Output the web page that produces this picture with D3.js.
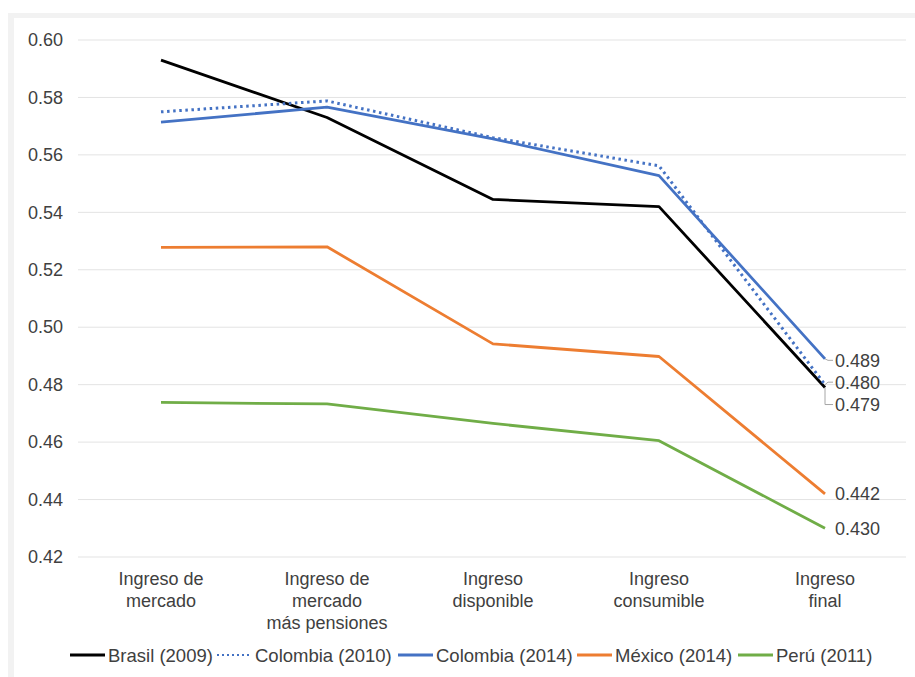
<!DOCTYPE html>
<html>
<head>
<meta charset="utf-8">
<script src="https://cdn.jsdelivr.net/npm/d3@7"></script>
<style>
  html, body { margin: 0; padding: 0; background: #ffffff; }
  svg { display: block; font-family: "Liberation Sans", Arial, sans-serif; }
</style>
</head>
<body>
<svg id="chart" width="915" height="677"></svg>
<script>
// Categories (income concepts) along the x axis
const categories = [
  ["Ingreso de", "mercado"],
  ["Ingreso de", "mercado", "más pensiones"],
  ["Ingreso", "disponible"],
  ["Ingreso", "consumible"],
  ["Ingreso", "final"]
];

// Gini coefficients by income concept
const brasil2009   = [0.593, 0.573, 0.5445, 0.542, 0.479];
const colombia2010 = [0.575, 0.5788, 0.566, 0.5562, 0.480];
const colombia2014 = [0.5714, 0.5766, 0.5656, 0.5528, 0.489];
const mexico2014   = [0.5278, 0.528, 0.4942, 0.4898, 0.442];
const peru2011     = [0.4738, 0.4733, 0.4665, 0.4605, 0.430];

const yTicks = [0.42, 0.44, 0.46, 0.48, 0.50, 0.52, 0.54, 0.56, 0.58, 0.60];

const series = [
  { name: "Brasil (2009)",   values: brasil2009,   color: "#000000", dash: null },
  { name: "Colombia (2010)", values: colombia2010, color: "#4472C4", dash: "2.5,3.6" },
  { name: "Colombia (2014)", values: colombia2014, color: "#4472C4", dash: null },
  { name: "México (2014)",   values: mexico2014,   color: "#ED7D31", dash: null },
  { name: "Perú (2011)",     values: peru2011,     color: "#70AD47", dash: null }
];

const svg = d3.select("#chart");
const textColor = "#404040";

// Background frame
svg.append("rect").attr("x", 8).attr("y", 13).attr("width", 915).attr("height", 677).attr("fill", "#f2f2f2");
svg.append("rect").attr("x", 14).attr("y", 18).attr("width", 915).attr("height", 677).attr("fill", "#ffffff");

const x = d3.scaleBand().domain(d3.range(categories.length)).range([78, 908]);
const cx = i => x(i) + x.bandwidth() / 2;
const y = d3.scaleLinear().domain([0.42, 0.60]).range([557, 40]);

// Gridlines
svg.append("g").selectAll("line").data(yTicks).join("line")
  .attr("x1", 78).attr("x2", 906)
  .attr("y1", d => y(d)).attr("y2", d => y(d))
  .attr("stroke", "#e3e3e3").attr("stroke-width", 1);

// Y axis labels
const yAxis = svg.append("g").attr("transform", "translate(63,0)")
  .call(d3.axisLeft(y).tickValues(yTicks).tickFormat(d3.format(".2f")).tickSize(0).tickPadding(0));
yAxis.select(".domain").remove();
yAxis.selectAll("text").attr("fill", textColor).attr("font-size", 18)
  .attr("font-family", "Liberation Sans, Arial, sans-serif");

// X axis category labels (multi-line)
const xLab = svg.append("g").selectAll("text").data(categories).join("text")
  .attr("x", (d, i) => cx(i)).attr("y", 585)
  .attr("text-anchor", "middle").attr("fill", textColor).attr("font-size", 18);
xLab.selectAll("tspan").data(d => d).join("tspan")
  .attr("x", function () { return d3.select(this.parentNode).attr("x"); })
  .attr("dy", (d, i) => i === 0 ? 0 : 22)
  .text(d => d);

// Series lines
const line = d3.line().x((d, i) => cx(i)).y(d => y(d));
svg.append("g").selectAll("path").data(series).join("path")
  .attr("d", d => line(d.values))
  .attr("fill", "none")
  .attr("stroke", d => d.color)
  .attr("stroke-width", d => d.dash ? 3 : 2.8)
  .attr("stroke-dasharray", d => d.dash)
  .attr("stroke-linejoin", "round");

// Value labels at the last category, with leader lines where shifted
const last = categories.length - 1;
const lx = cx(last);
const labels = [
  { v: colombia2014[last], dy: 1.5 },
  { v: colombia2010[last], dy: -2.5 },
  { v: brasil2009[last],   dy: 17 },
  { v: mexico2014[last],   dy: 0 },
  { v: peru2011[last],     dy: 0 }
];
const lg = svg.append("g");
labels.forEach(l => {
  const py = y(l.v), ty = py + l.dy;
  if (Math.abs(l.dy) > 0.1) {
    const pts = Math.abs(l.dy) > 6
      ? [[lx, py], [lx, ty], [lx + 8, ty]]
      : [[lx, py], [lx + 3, ty], [lx + 8, ty]];
    lg.append("path").attr("d", d3.line()(pts))
      .attr("fill", "none").attr("stroke", "#a6a6a6").attr("stroke-width", 1);
  }
  lg.append("text").attr("x", lx + 10).attr("y", ty).attr("dy", "0.36em")
    .attr("fill", textColor).attr("font-size", 18)
    .text(d3.format(".3f")(l.v));
});

// Legend
const legendItems = [
  { s: series[0], x: 70 },
  { s: series[1], x: 217 },
  { s: series[2], x: 398 },
  { s: series[3], x: 577 },
  { s: series[4], x: 738 }
];
const leg = svg.append("g").attr("transform", "translate(0,655)");
legendItems.forEach(it => {
  leg.append("line").attr("x1", it.x).attr("x2", it.x + 35).attr("y1", 0).attr("y2", 0)
    .attr("stroke", it.s.color).attr("stroke-width", it.s.dash ? 2 : 3)
    .attr("stroke-dasharray", it.s.dash ? "2,3" : null);
  leg.append("text").attr("x", it.x + 38).attr("y", 0).attr("dy", "0.36em")
    .attr("fill", textColor).attr("font-size", 18.5).text(it.s.name);
});
</script>
</body>
</html>
